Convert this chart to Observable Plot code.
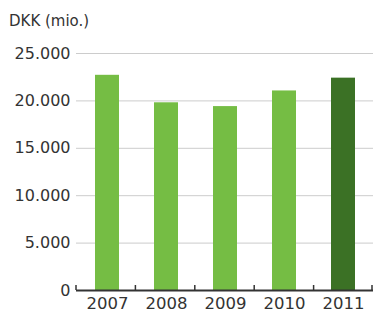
<!DOCTYPE html>
<html><head><meta charset="utf-8">
<script src="https://cdn.jsdelivr.net/npm/d3@7"></script>
<script src="https://cdn.jsdelivr.net/npm/@observablehq/plot@0.6"></script>
<style>
body{margin:0;background:#fff;}
#title{font-family:"DejaVu Sans";font-size:15px;color:#333;padding:13px 0 0 9px;height:22px;line-height:17px;}
</style></head><body>
<div id="title">DKK (mio.)</div>
<div id="chart"></div>
<script>
const years = ["2007","2008","2009","2010","2011"];
const values = [22700, 19800, 19400, 21050, 22400];
const highlightYears = ["2011"];
const yTicks = [0, 5000, 10000, 15000, 20000, 25000];
const yTickLabels = ["0", "5.000", "10.000", "15.000", "20.000", "25.000"];
const gridTicks = [5000, 10000, 15000, 20000, 25000];

const lightGreen = "#75bd44";
const darkGreen = "#3b7125";

const data = years.map((year, i) => ({year, value: values[i]}));

function boundaryTicks(index, scales, vals, dimensions) {
  const {width, height, marginLeft, marginRight, marginBottom} = dimensions;
  const n = years.length;
  const step = (width - marginLeft - marginRight) / n;
  const y0 = scales && scales.y ? scales.y(0) : height - marginBottom;
  const g = d3.create("svg:g");
  for (let i = 0; i <= n; i++) {
    const x = Math.min(marginLeft + i * step, width - 1);
    g.append("line").attr("x1", x).attr("x2", x).attr("y1", y0).attr("y2", y0 - 5)
      .attr("stroke", "#333").attr("stroke-width", 1.5);
  }
  return g.node();
}

const chart = Plot.plot({
  width: 373,
  height: 278,
  marginTop: 18,
  marginBottom: 23,
  marginLeft: 76,
  marginRight: 0,
  style: {fontFamily: "DejaVu Sans", fontSize: "16px", color: "#333", background: "#fff"},
  x: {domain: years, paddingInner: 0.595, paddingOuter: 0.2975, label: null},
  y: {domain: [0, 25000], label: null},
  marks: [
    Plot.ruleY(gridTicks, {stroke: "#cccccc", strokeWidth: 1}),
    Plot.barY(data, {x: "year", y: "value", fill: d => highlightYears.includes(d.year) ? darkGreen : lightGreen}),
    Plot.axisY({ticks: yTicks, tickFormat: d => yTickLabels[yTicks.indexOf(d)], tickSize: 0, tickPadding: 6, fontSize: 16, label: null}),
    Plot.axisX({tickSize: 0, tickPadding: 7, fontSize: 16.5, label: null}),
    Plot.ruleY([0], {stroke: "#333", strokeWidth: 2}),
    boundaryTicks
  ]
});
document.getElementById("chart").appendChild(chart);
</script>
</body></html>
